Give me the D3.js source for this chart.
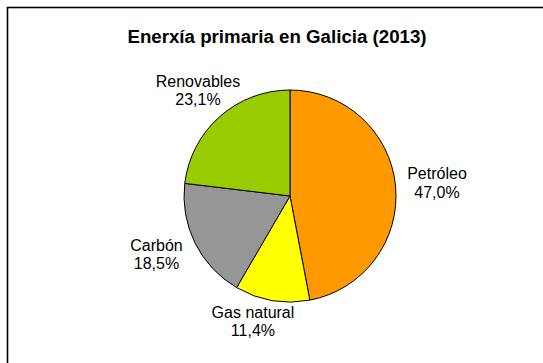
<!DOCTYPE html>
<html>
<head>
<meta charset="utf-8">
<script src="https://cdn.jsdelivr.net/npm/d3@7"></script>
<style>
  html, body { margin: 0; padding: 0; background: #fff; }
  svg { display: block; }
  text { font-family: "Liberation Sans", Arial, sans-serif; fill: #000; }
</style>
</head>
<body>
<script>
// Primary energy mix, Galicia 2013
const categories = ["Petróleo", "Gas natural", "Carbón", "Renovables"];
const shares = [47.0, 11.4, 18.5, 23.1];
const sliceColors = ["#FF9900", "#FFFF00", "#969696", "#99CC00"];
const title = "Enerxía primaria en Galicia (2013)";

const width = 543, height = 363;
const cx = 290, cy = 196, radius = 106;

// label placement: point on a ring around the pie, then a small per-slice shift
const labelRing = 140;
const labelShift = [[7.6, -3.8], [-13.4, -16], [-8.2, -7.7], [0.9, -4.3]];
const lineGap = 18.5;

const fmt = v => d3.format(".1f")(v).replace(".", ",") + "%";

const svg = d3.select("body").append("svg")
  .attr("width", width).attr("height", height);

// chart frame
svg.append("rect")
  .attr("x", 7.5).attr("y", 7.5)
  .attr("width", width).attr("height", height)
  .attr("fill", "#fff")
  .attr("stroke", "#000").attr("stroke-width", 1.6);

svg.append("text")
  .attr("x", 277).attr("y", 43)
  .attr("text-anchor", "middle")
  .attr("font-size", 18.7).attr("font-weight", "bold")
  .text(title);

const pie = d3.pie().sort(null).value(d => d)(shares);
const arc = d3.arc().innerRadius(0).outerRadius(radius);

const g = svg.append("g").attr("transform", `translate(${cx},${cy})`);

g.selectAll("path")
  .data(pie)
  .join("path")
  .attr("d", arc)
  .attr("fill", (d, i) => sliceColors[i])
  .attr("stroke", "#000")
  .attr("stroke-width", 1)
  .attr("stroke-linejoin", "round");

const labels = g.selectAll("text.lbl")
  .data(pie)
  .join("text")
  .attr("class", "lbl")
  .attr("text-anchor", "middle")
  .attr("font-size", 16)
  .attr("transform", (d, i) => {
    const a = (d.startAngle + d.endAngle) / 2;
    const x = labelRing * Math.sin(a) + labelShift[i][0];
    const y = -labelRing * Math.cos(a) + labelShift[i][1];
    return `translate(${x},${y})`;
  });

labels.append("tspan").attr("x", 0).attr("y", 0).text((d, i) => categories[i]);
labels.append("tspan").attr("x", 0).attr("y", lineGap).text(d => fmt(d.data));
</script>
</body>
</html>
